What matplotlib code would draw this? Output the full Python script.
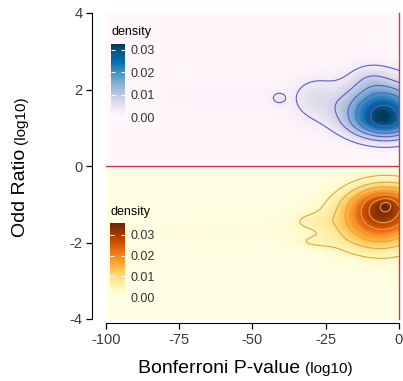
import numpy as np
import matplotlib
matplotlib.use('Agg')
import matplotlib.pyplot as plt

plt.rcParams['font.family'] = ['Liberation Sans', 'DejaVu Sans']
plt.rcParams['axes.unicode_minus'] = False

# density blobs:
# centre x, centre y, sd x, sd y below centre, sd y above centre, peak height
# upper half (odd ratio > 0)
up_cx = [-4.4, -14.0, -10.0, -29.0, -41.0, -60.0]
up_cy = [1.2, 1.5, 2.3, 1.85, 1.78, 1.8]
up_sx = [8.0, 12.0, 4.5, 5.0, 1.6, 18.0]
up_sy_lo = [0.33, 0.4, 0.25, 0.35, 0.1, 0.3]
up_sy_hi = [0.6, 0.5, 0.25, 0.35, 0.1, 0.3]
up_pk = [0.029, 0.006, 0.003, 0.0032, 0.004, 0.001]

# lower half (odd ratio < 0)
lo_cx = [-4.4, -13.0, -30.0, -29.0, -15.0, -60.0, -4.4]
lo_cy = [-1.05, -1.4, -1.45, -1.98, -1.95, -1.7, -1.02]
lo_sx = [9.0, 12.0, 5.0, 5.0, 8.0, 18.0, 1.5]
lo_sy_lo = [0.65, 0.45, 0.15, 0.12, 0.3, 0.3, 0.1]
lo_sy_hi = [0.4, 0.4, 0.15, 0.12, 0.3, 0.3, 0.1]
lo_pk = [0.03, 0.006, 0.003, 0.003, 0.002, 0.0012, 0.003]

up_levels = [0.003, 0.008, 0.013, 0.018, 0.023, 0.028]
lo_levels = [0.004, 0.009, 0.014, 0.019, 0.024, 0.029, 0.034]
cbar_ticks = [0.0, 0.01, 0.02, 0.03]
cbar_labels = ['0.00', '0.01', '0.02', '0.03']
x_ticks = [-100, -75, -50, -25, 0]
y_ticks = [-4, -2, 0, 2, 4]


def field(xs, ys, cx, cy, sx, sy_lo, sy_hi, pk):
    X, Y = np.meshgrid(xs, ys)
    Z = np.zeros_like(X)
    for a, b, c, dl, dh, p in zip(cx, cy, sx, sy_lo, sy_hi, pk):
        d = np.where(Y < b, dl, dh)
        Z += p * np.exp(-0.5 * ((X - a) / c) ** 2 - 0.5 * ((Y - b) / d) ** 2)
    return X, Y, Z


W, H = 403, 381
fig = plt.figure(figsize=(W / 100, H / 100), dpi=100)
ax = fig.add_axes([106 / W, 1 - 319 / H, 293 / W, 306 / H])

up = (up_cx, up_cy, up_sx, up_sy_lo, up_sy_hi, up_pk)
lo = (lo_cx, lo_cy, lo_sx, lo_sy_lo, lo_sy_hi, lo_pk)

# raster tiles
nx, ny = 80, 40
xs = np.linspace(-100, 0, nx)
_, _, Zu = field(xs, np.linspace(0, 4, ny), *up)
_, _, Zl = field(xs, np.linspace(-4, 0, ny), *lo)
im_u = ax.imshow(Zu, extent=[-100, 0, 0, 4], origin='lower', cmap='PuBu',
                 vmin=0, vmax=Zu.max(), aspect='auto', interpolation='bilinear')
im_l = ax.imshow(Zl, extent=[-100, 0, -4, 0], origin='lower', cmap='YlOrBr',
                 vmin=0, vmax=Zl.max(), aspect='auto', interpolation='bilinear')

# contours on a finer grid
fx = np.linspace(-100, 0, 400)
X, Y, Zu2 = field(fx, np.linspace(0, 4, 200), *up)
ax.contour(X, Y, Zu2, levels=up_levels, colors='#5c5cc8', linewidths=0.8)
X, Y, Zl2 = field(fx, np.linspace(-4, 0, 200), *lo)
ax.contour(X, Y, Zl2, levels=lo_levels, colors='#e3a340', linewidths=0.8)

ax.axhline(0, color='#d03a4a', lw=1.0)
ax.axvline(0, color='#d03a4a', lw=1.0, clip_on=False)

ax.set_xlim(-100, 0)
ax.set_ylim(-4, 4)
ax.set_xticks(x_ticks)
ax.set_yticks(y_ticks)
for s in ['top', 'right']:
    ax.spines[s].set_visible(False)
ax.spines['left'].set_position(('outward', 10))
ax.spines['bottom'].set_position(('outward', 3))
ax.spines['left'].set_bounds(-4, 4)
ax.spines['bottom'].set_bounds(-100, 0)
ax.tick_params(labelsize=10.5, labelcolor='#3a3a3a', length=4, width=0.9, pad=3)

# colour bars
cax_u = fig.add_axes([111 / W, 1 - 117 / H, 14 / W, 73 / H])
cax_l = fig.add_axes([110 / W, 1 - 297 / H, 15 / W, 74 / H])
for im, cax in [(im_u, cax_u), (im_l, cax_l)]:
    cb = fig.colorbar(im, cax=cax, ticks=cbar_ticks)
    cb.set_ticklabels(cbar_labels)
    cb.outline.set_visible(False)
    cax.tick_params(direction='in', color='white', length=3, width=0.8,
                    labelsize=9, labelcolor='#333333', left=True, right=True, pad=4)
fig.text(111 / W, 1 - 32 / H, 'density', fontsize=9, va='center')
fig.text(110 / W, 1 - 212 / H, 'density', fontsize=9, va='center')

# axis titles with smaller unit part
fig.text(138 / W, 1 - 373 / H, 'Bonferroni P-value', fontsize=14, va='baseline')
fig.text(305 / W, 1 - 373 / H, '(log10)', fontsize=11, va='baseline')
fig.text(25 / W, 1 - 237 / H, 'Odd Ratio', fontsize=14, rotation=90,
         rotation_mode='anchor', ha='left', va='baseline')
fig.text(25 / W, 1 - 144 / H, '(log10)', fontsize=11, rotation=90,
         rotation_mode='anchor', ha='left', va='baseline')

fig.savefig('out.png', dpi=100)
